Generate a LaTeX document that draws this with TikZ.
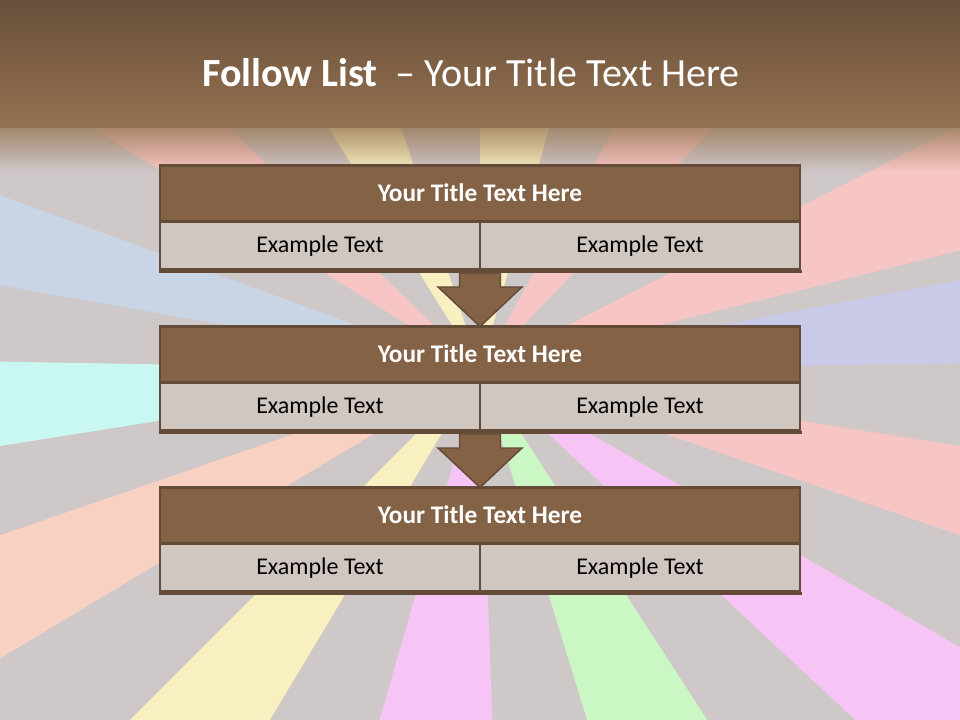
\documentclass[tikz,border=0pt]{standalone}
\usepackage{fontspec}
\setmainfont{Carlito}
\usetikzlibrary{calc,positioning,fadings}

\definecolor{headtop}{HTML}{69503B}
\definecolor{headbot}{HTML}{947150}
\definecolor{bggrey}{HTML}{CFC8C9}
\definecolor{barbrown}{HTML}{846246}
\definecolor{edgebrown}{HTML}{644B38}
\definecolor{cellgrey}{HTML}{D1C7C1}
\definecolor{raypink}{HTML}{F7C6C4}
\definecolor{rayyellow}{HTML}{F9F0C2}
\definecolor{raymagenta}{HTML}{F7C5F5}
\definecolor{raygreen}{HTML}{CBF7C5}
\definecolor{raycyan}{HTML}{C9F7F1}
\definecolor{raylav}{HTML}{C9C9E8}
\definecolor{rayblue}{HTML}{C9D4E4}
\definecolor{raypeach}{HTML}{F9D1C3}

\tikzfading[name=headfade, top color=transparent!25, bottom color=transparent!100]

\begin{document}
\begin{tikzpicture}[x=0.75pt,y=-0.75pt,
every node/.style={inner sep=0pt, outer sep=0pt, font=\fontsize{18}{22}\selectfont},
titlebar/.style={draw=edgebrown, line width=2.2pt, fill=barbrown, text=white,
  font=\fontsize{19}{23}\selectfont\bfseries, minimum width=480pt, minimum height=42pt,
  text height=11.5pt, text depth=0pt},
cell/.style={draw=edgebrown, line width=2.2pt, fill=cellgrey, text=black,
  minimum width=240pt, minimum height=36pt, text height=11pt, text depth=0pt},
downarrow/.style={draw=edgebrown, line width=1.1pt, fill=barbrown, line join=miter}]
\useasboundingbox (0,0) rectangle (960,720);
\fill[bggrey] (0,0) rectangle (960,720);
\begin{scope}
\clip (0,0) rectangle (960,720);
\coordinate (C) at (480,370);
\fill[raylav] (C) -- ($(C)+(-0.8:1100)$) -- ($(C)+(-10.6:1100)$) -- cycle;
\fill[raypink] (C) -- ($(C)+(-14:1100)$) -- ($(C)+(-27:1100)$) -- cycle;
\fill[raypink] (C) -- ($(C)+(-46:1100)$) -- ($(C)+(-61:1100)$) -- cycle;
\fill[rayyellow] (C) -- ($(C)+(-74:1100)$) -- ($(C)+(-90:1100)$) -- cycle;
\fill[rayyellow] (C) -- ($(C)+(-108:1100)$) -- ($(C)+(-122:1100)$) -- cycle;
\fill[raypink] (C) -- ($(C)+(-136:1100)$) -- ($(C)+(-148:1100)$) -- cycle;
\fill[rayblue] (C) -- ($(C)+(-160:1100)$) -- ($(C)+(-170:1100)$) -- cycle;
\fill[raycyan] (C) -- ($(C)+(-179:1100)$) -- ($(C)+(-189:1100)$) -- cycle;
\fill[raypeach] (C) -- ($(C)+(-199:1100)$) -- ($(C)+(-211:1100)$) -- cycle;
\fill[rayyellow] (C) -- ($(C)+(-225:1100)$) -- ($(C)+(-239:1100)$) -- cycle;
\fill[raymagenta] (C) -- ($(C)+(-254:1100)$) -- ($(C)+(-272:1100)$) -- cycle;
\fill[raygreen] (C) -- ($(C)+(-287:1100)$) -- ($(C)+(-303:1100)$) -- cycle;
\fill[raymagenta] (C) -- ($(C)+(-317:1100)$) -- ($(C)+(-330:1100)$) -- cycle;
\fill[raypink] (C) -- ($(C)+(-341:1100)$) -- ($(C)+(-351:1100)$) -- cycle;
\end{scope}
\shade[top color=headtop, bottom color=headbot] (0,0) rectangle (960,128);
\fill[headbot, path fading=headfade] (0,127.5) rectangle (960,172);
\node[anchor=base, text=white, font=\fontsize{30}{36}\selectfont] (H) at (471,87)
  {\textbf{Follow List}\ \ – Your Title Text Here};
\node[titlebar] (T1) at (480,193.5) {Your Title Text Here};
\node[cell, anchor=north west] (L1) at (T1.south west) {Example Text};
\node[cell, anchor=north east] (R1) at (T1.south east) {Example Text};
\node[titlebar] (T2) at (480,354.5) {Your Title Text Here};
\node[cell, anchor=north west] (L2) at (T2.south west) {Example Text};
\node[cell, anchor=north east] (R2) at (T2.south east) {Example Text};
\node[titlebar] (T3) at (480,515.5) {Your Title Text Here};
\node[cell, anchor=north west] (L3) at (T3.south west) {Example Text};
\node[cell, anchor=north east] (R3) at (T3.south east) {Example Text};
\draw[edgebrown, line width=2pt] ($(L1.south west)+(-1.5,2)$) -- ($(R1.south east)+(1.5,2)$);
\draw[edgebrown, line width=2pt] ($(L2.south west)+(-1.5,2)$) -- ($(R2.south east)+(1.5,2)$);
\draw[edgebrown, line width=2pt] ($(L3.south west)+(-1.5,2)$) -- ($(R3.south east)+(1.5,2)$);
\draw[downarrow] ($(L1.south east)+(-20.5,3.5)$) -- ($(L1.south east)+(-20.5,17.5)$)
  -- ($(L1.south east)+(-42,17.5)$) -- (T2.north) -- ($(L1.south east)+(42,17.5)$)
  -- ($(L1.south east)+(20.5,17.5)$) -- ($(L1.south east)+(20.5,3.5)$) -- cycle;
\draw[downarrow] ($(L2.south east)+(-20.5,3.5)$) -- ($(L2.south east)+(-20.5,17.5)$)
  -- ($(L2.south east)+(-42,17.5)$) -- (T3.north) -- ($(L2.south east)+(42,17.5)$)
  -- ($(L2.south east)+(20.5,17.5)$) -- ($(L2.south east)+(20.5,3.5)$) -- cycle;
\end{tikzpicture}
\end{document}
